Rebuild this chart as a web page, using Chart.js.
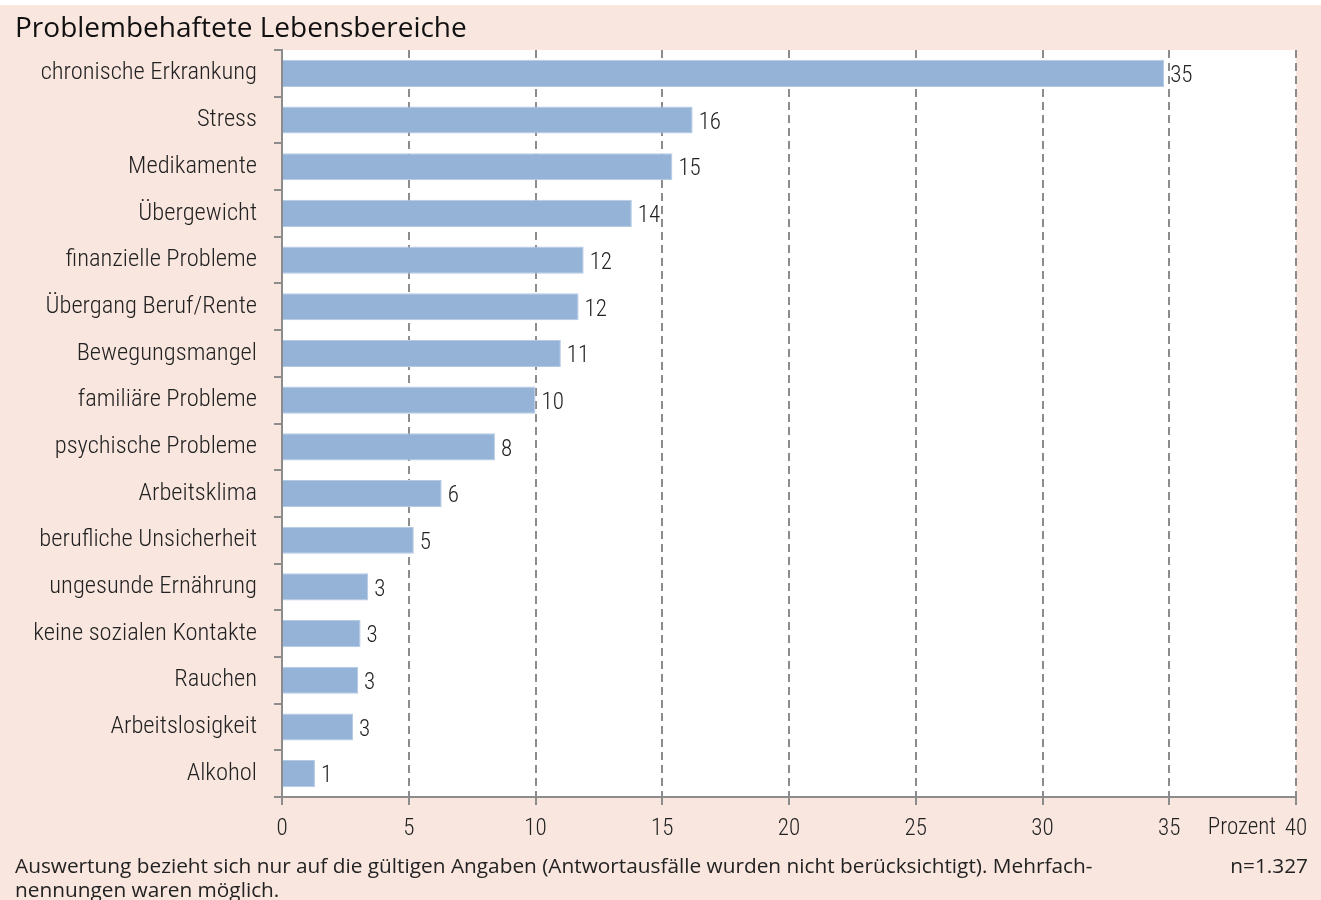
<!DOCTYPE html>
<html>
<head>
<meta charset="utf-8">
<script src="https://cdn.jsdelivr.net/npm/chart.js@4"></script>
<style>
  html, body { margin: 0; padding: 0; background: #f9e6df; }
  #wrap { width: 1321px; height: 900px; }
</style>
</head>
<body>
<div id="wrap"><canvas id="chart" width="1321" height="900"></canvas></div>
<script>
const categories = [
  'chronische Erkrankung', 'Stress', 'Medikamente', 'Übergewicht',
  'finanzielle Probleme', 'Übergang Beruf/Rente', 'Bewegungsmangel',
  'familiäre Probleme', 'psychische Probleme', 'Arbeitsklima',
  'berufliche Unsicherheit', 'ungesunde Ernährung', 'keine sozialen Kontakte',
  'Rauchen', 'Arbeitslosigkeit', 'Alkohol'
];
const values = [34.8, 16.2, 15.4, 13.8, 11.9, 11.7, 11.0, 10.0, 8.4, 6.3, 5.2, 3.4, 3.1, 3.0, 2.8, 1.3];
const xTicks = [0, 5, 10, 15, 20, 25, 30, 35, 40];

const titleText = 'Problembehaftete Lebensbereiche';
const unitText = 'Prozent';
const noteLines = [
  'Auswertung bezieht sich nur auf die gültigen Angaben (Antwortausfälle wurden nicht berücksichtigt). Mehrfach-',
  'nennungen waren möglich.'
];
const sampleText = 'n=1.327';

const lightFont = "'Roboto Condensed', 'Liberation Sans Narrow', Roboto, sans-serif";
const textFont = "'Open Sans', 'Noto Sans', sans-serif";

const decor = {
  id: 'decor',
  beforeDraw(chart) {
    const { ctx, chartArea: a } = chart;
    ctx.save();
    ctx.fillStyle = '#f9e6df';
    ctx.fillRect(0, 0, chart.width, chart.height);
    ctx.fillStyle = '#ffffff';
    ctx.fillRect(0, 0, chart.width, 5);
    ctx.fillRect(a.left, a.top, a.right - a.left, a.bottom - a.top);
    ctx.restore();
  },
  afterDraw(chart) {
    const { ctx, chartArea: a } = chart;
    const meta = chart.getDatasetMeta(0);
    ctx.save();
    // value labels
    ctx.fillStyle = '#222';
    ctx.font = '300 23px ' + lightFont;
    ctx.textAlign = 'left';
    ctx.textBaseline = 'middle';
    meta.data.forEach((bar, i) => {
      ctx.fillText(String(Math.round(values[i])), bar.x + 6, bar.y + 3);
    });
    // unit label
    ctx.textAlign = 'right';
    ctx.textBaseline = 'middle';
    ctx.fillText(unitText, a.right - 20, a.bottom + 31);
    // title
    ctx.fillStyle = '#111';
    ctx.font = '500 28px ' + textFont;
    ctx.textAlign = 'left';
    ctx.textBaseline = 'alphabetic';
    ctx.fillText(titleText, 15, 37);
    // footnote
    ctx.font = '20.8px ' + textFont;
    ctx.fillStyle = '#222';
    ctx.fillText(noteLines[0], 15, 873);
    ctx.fillText(noteLines[1], 15, 897);
    ctx.textAlign = 'right';
    ctx.fillText(sampleText, 1308, 873);
    ctx.restore();
  }
};

new Chart(document.getElementById('chart'), {
  type: 'bar',
  data: {
    labels: categories,
    datasets: [{
      data: values,
      backgroundColor: '#95b3d7',
      borderColor: '#b4c9e4',
      borderWidth: 1,
      barPercentage: 0.58,
      categoryPercentage: 1
    }]
  },
  options: {
    indexAxis: 'y',
    responsive: false,
    animation: false,
    layout: { padding: { top: 50, right: 25, left: 0, bottom: 53 } },
    plugins: {
      legend: { display: false },
      tooltip: { enabled: false }
    },
    scales: {
      x: {
        min: 0,
        max: 40,
        afterFit(scale) { scale.height = 50; },
        afterBuildTicks(scale) { scale.ticks = xTicks.map(v => ({ value: v })); },
        grid: { color: '#8c8c8c', lineWidth: 2, tickLength: 8, drawTicks: true },
        border: { display: true, color: '#8c8c8c', width: 2, dash: [8, 5] },
        ticks: {
          color: '#222',
          padding: 10,
          maxRotation: 0,
          font: { family: lightFont, size: 23, weight: '300' }
        }
      },
      y: {
        afterFit(scale) { scale.width = 282; },
        grid: { drawOnChartArea: false, color: '#8c8c8c', lineWidth: 2, tickLength: 8, offset: true },
        border: { display: true, color: '#8c8c8c', width: 2 },
        ticks: {
          color: '#222',
          padding: 17,
          autoSkip: false,
          font: { family: lightFont, size: 24.5, weight: '300' }
        }
      }
    }
  },
  plugins: [decor]
});
</script>
</body>
</html>
